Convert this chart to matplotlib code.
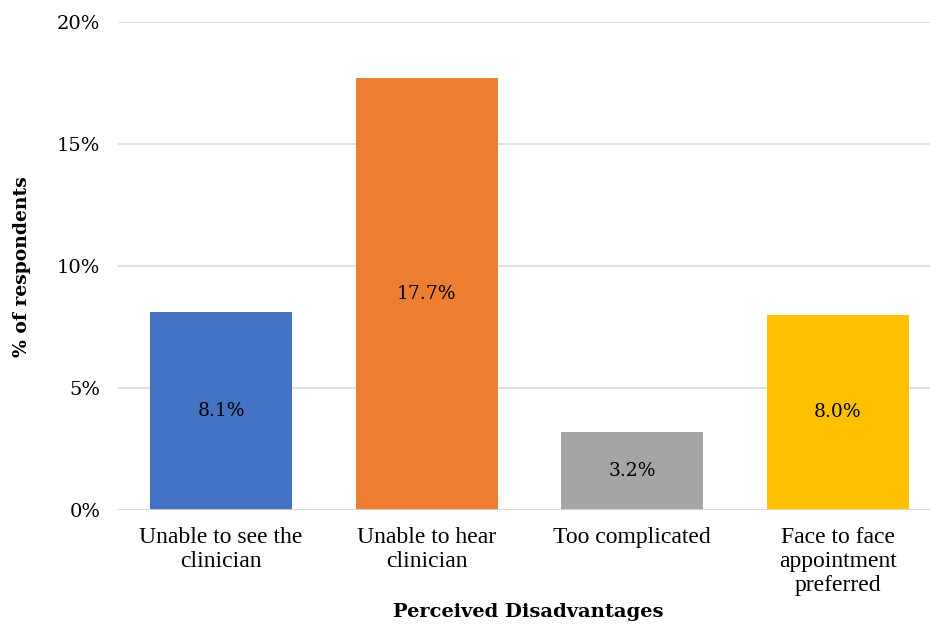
import matplotlib.pyplot as plt
from matplotlib.ticker import FuncFormatter

categories = ["Unable to see the\nclinician", "Unable to hear\nclinician",
              "Too complicated", "Face to face\nappointment\npreferred"]
values = [8.1, 17.7, 3.2, 8.0]
colors = ["#4472C4", "#ED7D31", "#A5A5A5", "#FFC000"]

fig = plt.figure(figsize=(9.3, 6.28), dpi=100)
ax = fig.add_axes([0.1273, 0.188, 0.884, 0.777])

x = range(len(values))
bars = ax.bar(x, values, width=0.69, color=colors, zorder=3)

for b, v in zip(bars, values):
    ax.text(b.get_x() + b.get_width() / 2, v / 2, f"{v:.1f}%",
            ha="center", va="center", fontsize=13.5, family="DejaVu Serif")

ax.set_xlim(-0.5, 3.5)
ax.set_ylim(0, 20)
ax.set_yticks([0, 5, 10, 15, 20])
ax.yaxis.set_major_formatter(FuncFormatter(lambda v, p: f"{v:.0f}%"))
ax.grid(axis="y", color="#d9d9d9", linewidth=1.2, zorder=0)
ax.axhline(0, color="#d9d9d9", linewidth=1.2, zorder=4)

for s in ax.spines.values():
    s.set_visible(False)
ax.tick_params(length=0)
ax.tick_params(axis="y", pad=13)
ax.tick_params(axis="x", pad=12)
for lbl in ax.get_yticklabels():
    lbl.set_family("DejaVu Serif")
    lbl.set_fontsize(14)

ax.set_xticks(list(x))
ax.set_xticklabels(categories, family="Liberation Serif", fontsize=17,
                   linespacing=1.2)

fig.text(0.024, 0.576, "% of respondents", rotation=90, ha="center",
         va="center", family="DejaVu Serif", fontweight="bold", fontsize=13.5)
fig.text(0.568, 0.025, "Perceived Disadvantages", ha="center", va="center",
         family="DejaVu Serif", fontweight="bold", fontsize=14)

fig.savefig("out.png", dpi=100)
